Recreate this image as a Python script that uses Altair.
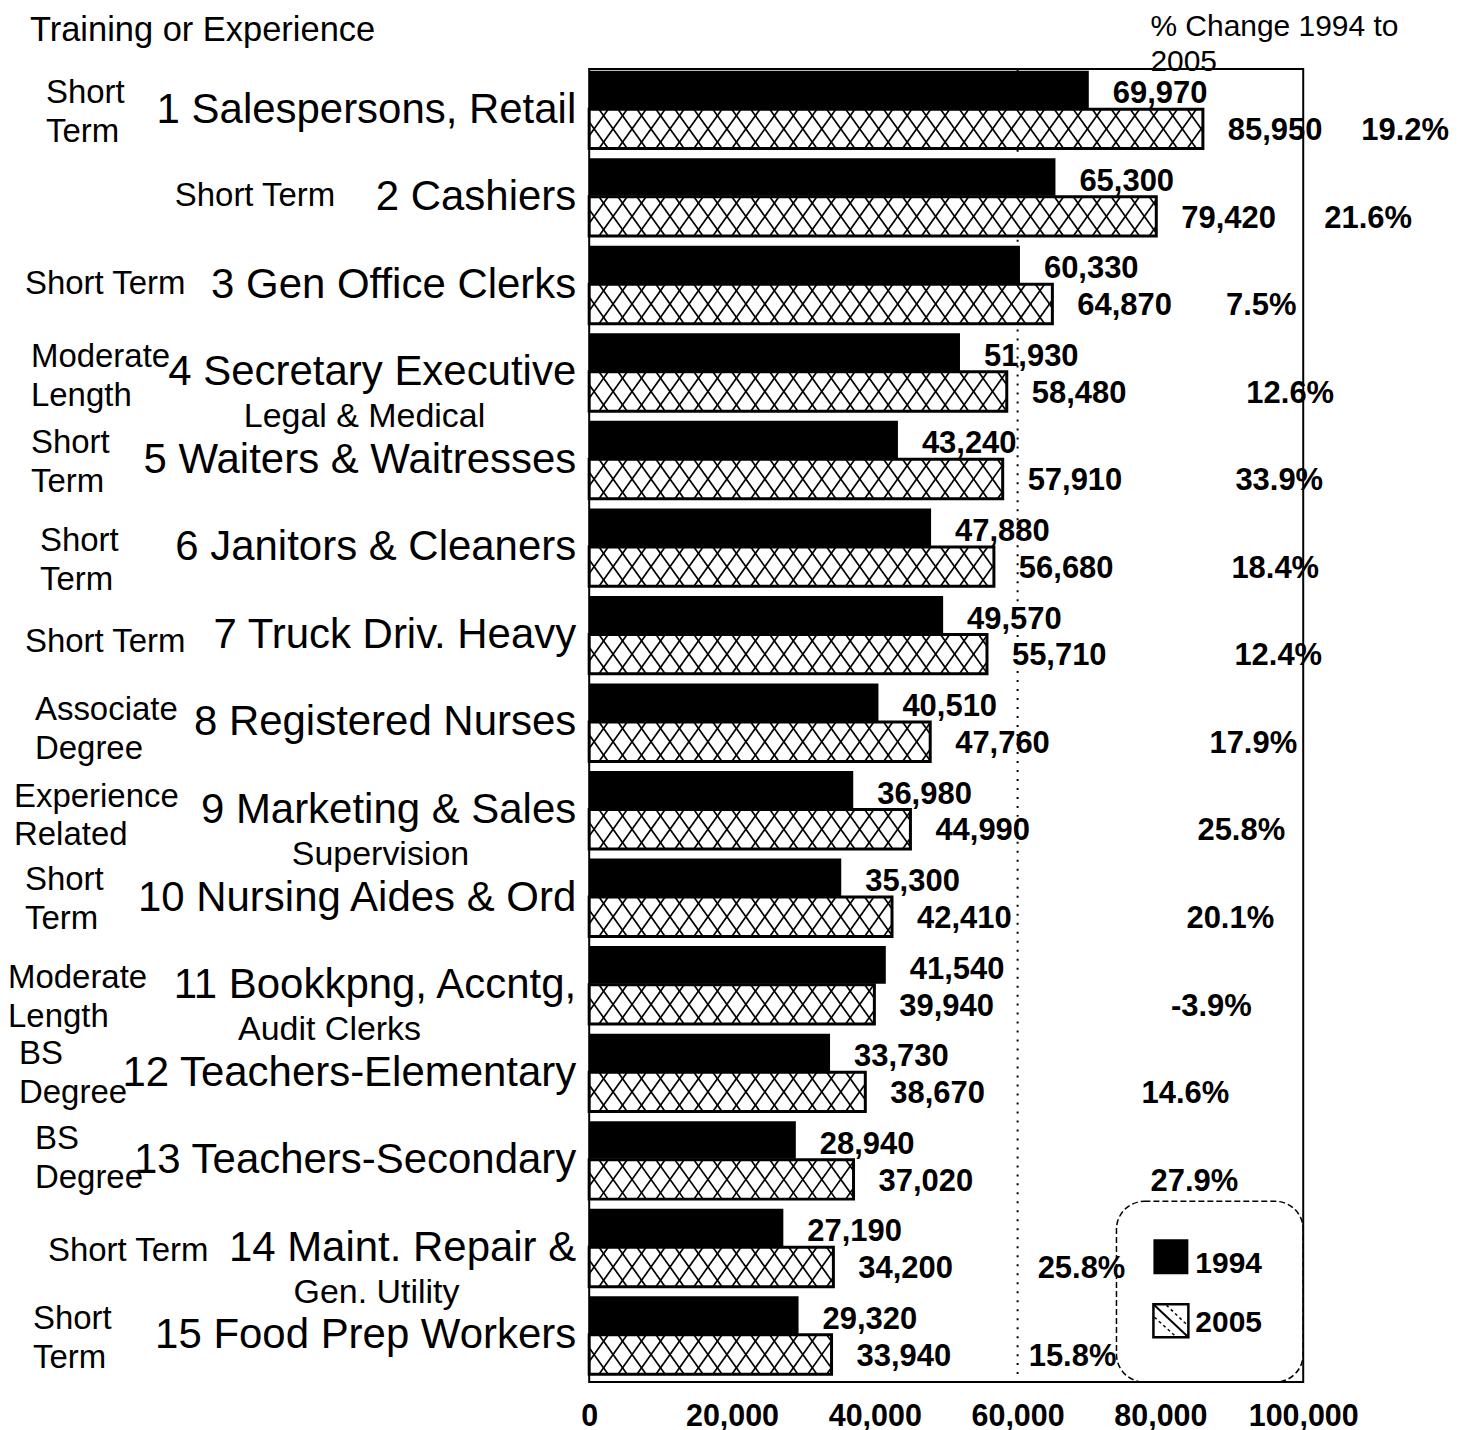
import altair as alt
import pandas as pd

# ---------------- data ----------------
occupations = ["1 Salespersons, Retail", "2 Cashiers", "3 Gen Office Clerks",
               "4 Secretary Executive", "5 Waiters & Waitresses", "6 Janitors & Cleaners",
               "7 Truck Driv. Heavy", "8 Registered Nurses", "9 Marketing & Sales",
               "10 Nursing Aides & Ord", "11 Bookkpng, Accntg,", "12 Teachers-Elementary",
               "13 Teachers-Secondary", "14 Maint. Repair &", "15 Food Prep Workers"]
sublabels = ["", "", "", "Legal & Medical", "", "", "", "", "Supervision", "",
             "Audit Clerks", "", "", "Gen. Utility", ""]
training = ["Short\nTerm", "Short Term", "Short Term", "Moderate\nLength", "Short\nTerm",
            "Short\nTerm", "Short Term", "Associate\nDegree", "Experience\nRelated",
            "Short\nTerm", "Moderate\nLength", "BS\nDegree", "BS\nDegree", "Short Term",
            "Short\nTerm"]
emp_1994 = [69970, 65300, 60330, 51930, 43240, 47880, 49570, 40510, 36980, 35300,
            41540, 33730, 28940, 27190, 29320]
emp_2005 = [85950, 79420, 64870, 58480, 57910, 56680, 55710, 47760, 44990, 42410,
            39940, 38670, 37020, 34200, 33940]
pct_change = ["19.2%", "21.6%", "7.5%", "12.6%", "33.9%", "18.4%", "12.4%", "17.9%",
              "25.8%", "20.1%", "-3.9%", "14.6%", "27.9%", "25.8%", "15.8%"]
x_ticks = [0, 20000, 40000, 60000, 80000, 100000]
series_names = ["1994", "2005"]
header_text = "% Change 1994 to\n2005"
left_title = "Training or Experience"

# ---------------- layout (pixels, relative to plot area) ----------------
PLOT_W, PLOT_H = 715, 1315
XMAX = 100000
NROW = len(occupations)
ROW_PX = PLOT_H / NROW
PX_PER_UNIT = PLOT_W / XMAX
FONT = "Liberation Sans"

BLACK_Y = (0.02, 0.45)
HATCH_Y = (0.46, 0.91)
train_x = [46, 175, 25, 31, 31, 40, 25, 35, 14, 25, 8, 19, 35, 48, 33]
train_dy = [0, -4, -4, 1, 0, 10, 4, 4, 3, -1, 9, -2, -5, 0, 0]
sub_x = [0, 0, 0, 365, 0, 0, 0, 0, 381, 0, 330, 0, 0, 377, 0]
pct_x = [1407, 1370, 1263, 1292, 1281, 1277, 1280, 1255, 1243, 1232, 1213, 1187, 1196, 1083, 1074]
PLOT_LEFT_PAGE = 590
LINE_H = 39

rows = list(range(NROW))
df = pd.DataFrame({
    "occ": occupations, "sub": sublabels, "train": training,
    "v94": emp_1994, "v05": emp_2005, "pct": pct_change, "row": rows,
})
df["zero"] = 0
df["yb0"] = df["row"] + BLACK_Y[0]
df["yb1"] = df["row"] + BLACK_Y[1]
df["yh0"] = df["row"] + HATCH_Y[0]
df["yh1"] = df["row"] + HATCH_Y[1]
df["lab94"] = df["v94"].map(lambda v: f"{v:,}")
df["lab05"] = df["v05"].map(lambda v: f"{v:,}")
df["ylab94"] = df["row"] + 0.29
df["ylab05"] = df["row"] + 0.71
df["yocc"] = df["row"] + 0.5 - 3 / ROW_PX
df["ysub"] = df["row"] + 0.5 + 42 / ROW_PX
nlines = df["train"].str.count("\n")
df["ytrain"] = df["row"] + 0.5 + (pd.Series(train_dy) - nlines * LINE_H / 2) / ROW_PX
df["tx"] = pd.Series(train_x) - PLOT_LEFT_PAGE
df["sx"] = pd.Series(sub_x) - PLOT_LEFT_PAGE
df["px"] = pd.Series(pct_x) - PLOT_LEFT_PAGE

# cross-hatch segments for the 2005 bars, computed from the values
segs = []
slope, period = 1.4, 19.0
for r, v in zip(rows, emp_2005):
    xe = v * PX_PER_UNIT
    y0 = (r + HATCH_Y[0]) * ROW_PX
    y1 = (r + HATCH_Y[1]) * ROW_PX
    H = y1 - y0
    w = H / slope
    c = -w
    while c < xe:
        t0 = max(0.0, -c / w)
        t1 = min(1.0, (xe - c) / w)
        if t1 > t0:
            xa, xb = c + t0 * w, c + t1 * w
            for d in (1, -1):
                if d == 1:
                    ya, yb = y0 + t0 * H, y0 + t1 * H
                else:
                    ya, yb = y1 - t0 * H, y1 - t1 * H
                segs.append({"hx": xa / PX_PER_UNIT, "hx2": xb / PX_PER_UNIT,
                             "hy": ya / ROW_PX, "hy2": yb / ROW_PX})
        c += period
hatch_df = pd.DataFrame(segs)

xs = alt.Scale(domain=[0, XMAX], nice=False, zero=True)
ys = alt.Scale(domain=[0, NROW], nice=False, reverse=True)
xaxis = alt.Axis(values=x_ticks, format=",d", labelFontSize=30.5, labelFont=FONT,
                 labelFontWeight="bold", labelColor="black", ticks=False, domain=False,
                 grid=False, labelPadding=19, labelFlush=False, title=None)


def X(field):
    return alt.X(field, type="quantitative", scale=xs, axis=xaxis, title=None)


def Y(field):
    return alt.Y(field, type="quantitative", scale=ys, axis=None, title=None)


base = alt.Chart(df)

ref = alt.Chart(pd.DataFrame({"x": [60000]})).mark_rule(
    color="black", strokeWidth=2, strokeDash=[2, 7]
).encode(x=X("x"), y=alt.value(0), y2=alt.value(PLOT_H))

bars94 = base.mark_rect(color="black").encode(x=X("zero"), x2="v94", y=Y("yb0"), y2="yb1")
bars05_fill = base.mark_rect(fill="white").encode(x=X("zero"), x2="v05", y=Y("yh0"), y2="yh1")
hatch = alt.Chart(hatch_df).mark_rule(color="black", strokeWidth=1.7).encode(
    x=X("hx"), x2="hx2", y=Y("hy"), y2="hy2")
bars05_out = base.mark_rect(fill="white", fillOpacity=0, stroke="black", strokeWidth=3).encode(
    x=X("zero"), x2="v05", y=Y("yh0"), y2="yh1")

num_style = dict(font=FONT, fontSize=31, fontWeight="bold", color="black", baseline="middle")
lab94 = base.mark_text(align="left", dx=24, **num_style).encode(x=X("v94"), y=Y("ylab94"), text="lab94")
lab05 = base.mark_text(align="left", dx=25, **num_style).encode(x=X("v05"), y=Y("ylab05"), text="lab05")
pct = base.mark_text(align="center", **num_style).encode(
    x=alt.X("px:Q", scale=None, axis=None), y=Y("ylab05"), text="pct")

occ = base.mark_text(align="right", baseline="middle", font=FONT, fontSize=42, color="black").encode(
    x=alt.value(-13), y=Y("yocc"), text="occ")
sub = base.transform_filter("datum.sub != ''").mark_text(
    align="center", baseline="middle", font=FONT, fontSize=34, color="black").encode(
    x=alt.X("sx:Q", scale=None, axis=None), y=Y("ysub"), text="sub")
train = base.mark_text(align="left", baseline="middle", font=FONT, fontSize=33, color="black",
                       lineBreak="\n", lineHeight=LINE_H).encode(
    x=alt.X("tx:Q", scale=None, axis=None), y=Y("ytrain"), text="train")

one = pd.DataFrame({"a": [0]})
title_left = alt.Chart(one).mark_text(align="left", baseline="middle", font=FONT, fontSize=34.5,
                                      color="black", text=left_title).encode(
    x=alt.value(-560), y=alt.value(-38))
header = alt.Chart(one).mark_text(align="left", baseline="middle", font=FONT, fontSize=30,
                                  color="black", lineBreak="\n", lineHeight=35,
                                  text=header_text).encode(
    x=alt.value(562), y=alt.value(-42))

# legend
leg_box = alt.Chart(one).mark_rect(cornerRadius=28, fill="white", fillOpacity=0, stroke="black",
                                   strokeWidth=1.5, strokeDash=[6, 3]).encode(
    x=alt.value(528), x2=alt.value(715), y=alt.value(1134), y2=alt.value(1315))
leg_black = alt.Chart(one).mark_rect(color="black").encode(
    x=alt.value(565), x2=alt.value(600), y=alt.value(1172), y2=alt.value(1207))
leg_hatch = alt.Chart(one).mark_rect(fill="white", stroke="black", strokeWidth=2.5).encode(
    x=alt.value(565), x2=alt.value(600), y=alt.value(1237), y2=alt.value(1270))
leg_diag = alt.Chart(one).mark_rule(color="black", strokeWidth=2).encode(
    x=alt.value(566), x2=alt.value(599), y=alt.value(1238), y2=alt.value(1269))
leg_diag2 = alt.Chart(one).mark_rule(color="black", strokeWidth=1.5, strokeDash=[3, 3]).encode(
    x=alt.value(578), x2=alt.value(599), y=alt.value(1238), y2=alt.value(1258))
leg_diag3 = alt.Chart(one).mark_rule(color="black", strokeWidth=1.5, strokeDash=[3, 3]).encode(
    x=alt.value(566), x2=alt.value(587), y=alt.value(1250), y2=alt.value(1269))
leg_text = alt.Chart(pd.DataFrame({"name": series_names, "ty": [1197, 1256]})).mark_text(
    align="left", baseline="middle", font=FONT, fontSize=30, fontWeight="bold", color="black").encode(
    x=alt.value(607), y=alt.Y("ty:Q", scale=None, axis=None), text="name")

chart = alt.layer(
    ref, bars94, bars05_fill, hatch, bars05_out, lab94, lab05, pct, occ, sub, train,
    title_left, header, leg_box, leg_black, leg_hatch, leg_diag, leg_diag2, leg_diag3, leg_text,
).properties(
    width=PLOT_W, height=PLOT_H,
    autosize=alt.AutoSizeParams(type="none"),
    padding={"left": 582, "top": 60, "right": 155, "bottom": 60},
    background="white",
).configure_view(stroke="black", strokeWidth=2)

chart.save("out.html", embed_options={"renderer": "svg", "actions": False})
